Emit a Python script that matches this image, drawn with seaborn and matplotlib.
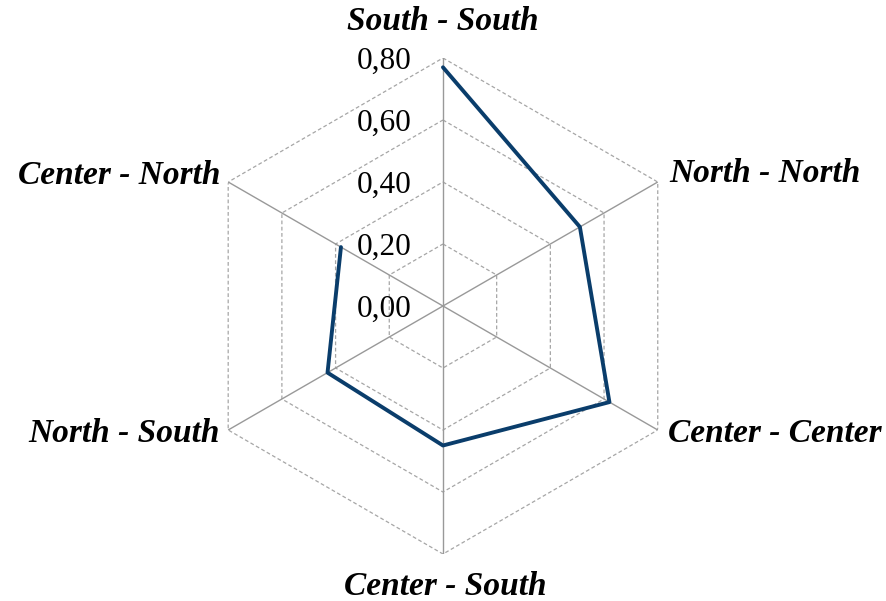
import numpy as np
import pandas as pd
import matplotlib
matplotlib.use('Agg')
import matplotlib.pyplot as plt
import seaborn as sns

# data
categories = ['South - South', 'North - North', 'Center - Center',
              'Center - South', 'North - South', 'Center - North']
values = [0.77, 0.51, 0.62, 0.45, 0.43, 0.38]
ticks = [0.0, 0.2, 0.4, 0.6, 0.8]
tick_labels = ['0,00', '0,20', '0,40', '0,60', '0,80']

sns.set_style('white')
plt.rcParams['font.family'] = ['Liberation Serif', 'DejaVu Serif']

n = len(categories)
angles = list(np.linspace(0, 2 * np.pi, n, endpoint=False))

fig = plt.figure(figsize=(8.87, 6.01), dpi=100)
ax = fig.add_axes([0.2198, 0.0782, 0.5592, 0.8253], projection='polar')
ax.set_theta_offset(np.pi / 2)
ax.set_theta_direction(-1)
ax.set_ylim(0, 0.8)
ax.grid(False)
ax.spines['polar'].set_visible(False)
ax.set_xticks([])
ax.set_yticks([])
ax.patch.set_alpha(0)

# hexagon grid (dashed) and spokes (solid)
for t in ticks[1:]:
    ax.plot(angles + [angles[0]], [t] * (n + 1), color='#a6a6a6',
            lw=0.9, ls=(0, (3, 2)), zorder=1)
for a in angles:
    ax.plot([a, a], [0, ticks[-1]], color='#999999', lw=1.0, zorder=1)

df = pd.DataFrame({'angle': angles + [angles[0]],
                   'value': values + [values[0]]})
sns.lineplot(data=df, x='angle', y='value', sort=False, ax=ax,
             color='#0a3d6b', lw=2.8, zorder=3)
ax.set_xlabel('')
ax.set_ylabel('')

# radial tick labels
for t, lab in zip(ticks, tick_labels):
    ax.annotate(lab, xy=(0, t), xytext=(-31, -3), textcoords='offset pixels',
                ha='right', va='center', fontsize=22.5, color='black')

# category labels
offsets = [(0, 36, 'center', 'center'),
           (12, 8, 'left', 'center'),
           (10, -3, 'left', 'center'),
           (2, -32, 'center', 'center'),
           (-8, -3, 'right', 'center'),
           (-8, 6, 'right', 'center')]
for a, cat, (dx, dy, ha, va) in zip(angles, categories, offsets):
    ax.annotate(cat, xy=(a, ticks[-1]), xytext=(dx, dy), textcoords='offset pixels',
                ha=ha, va=va, fontsize=24, fontweight='bold', fontstyle='italic',
                color='black', annotation_clip=False)

fig.savefig('out.png', dpi=100)
